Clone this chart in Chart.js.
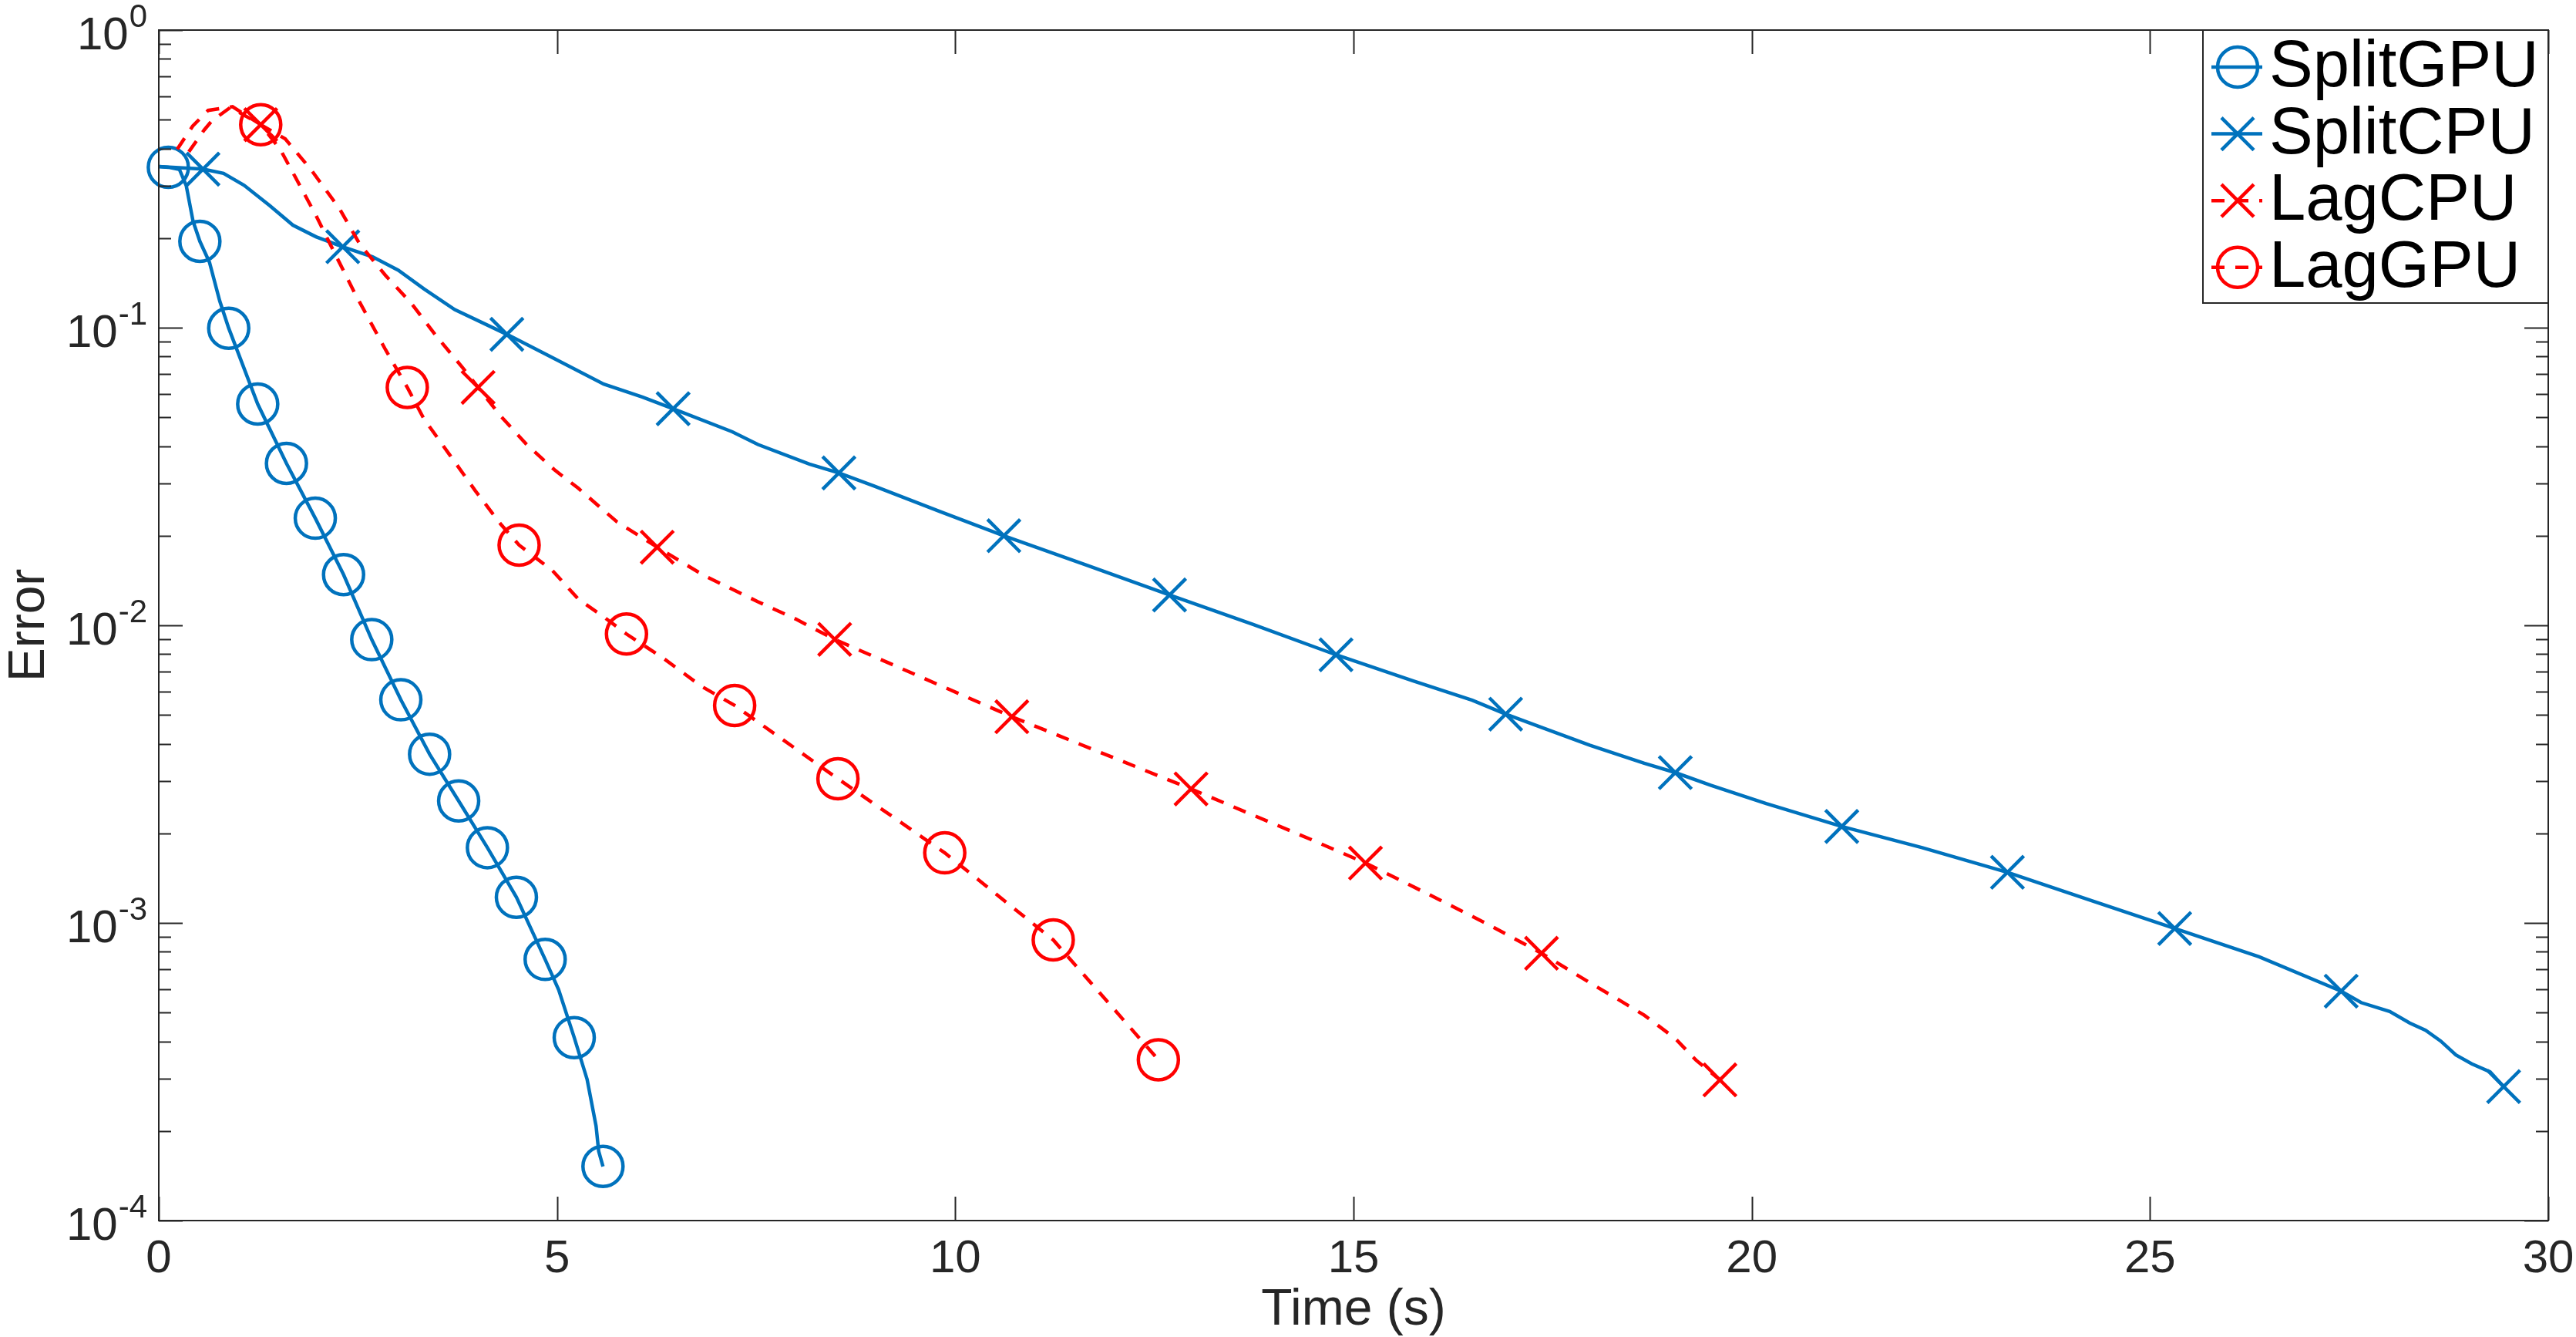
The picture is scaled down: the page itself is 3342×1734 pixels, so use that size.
<!DOCTYPE html>
<html>
<head>
<meta charset="utf-8">
<title>Error vs time</title>
<script src="https://cdn.jsdelivr.net/npm/chart.js@4.4.0/dist/chart.umd.min.js"></script>
<style>
  html, body { margin: 0; padding: 0; background: #fff; }
  canvas { display: block; }
</style>
</head>
<body>
<canvas id="graf" width="3342" height="1734"></canvas>
<script>
// --- data (time in s, error) ---
const seriesNames = ["SplitGPU", "SplitCPU", "LagCPU", "LagGPU"];

const splitGpuTime = [0, 0.12, 0.26, 0.345, 0.43, 0.516, 0.636, 0.765, 0.878, 1.242, 1.603, 1.965, 2.32, 2.674, 3.039, 3.40, 3.765, 4.126, 4.49, 4.851, 5.02, 5.216, 5.378, 5.49, 5.523, 5.577];
const splitGpuErr = [0.348, 0.346, 0.340, 0.300, 0.228, 0.195, 0.166, 0.123, 0.0996, 0.0554, 0.0350, 0.0229, 0.0148, 0.00895, 0.00562, 0.00369, 0.00257, 0.00179, 0.00122, 0.000754, 0.000597, 0.000412, 0.000298, 0.000208, 0.000171, 0.000152];
const splitGpuMarkTime = [0.12, 0.516, 0.878, 1.242, 1.603, 1.965, 2.32, 2.674, 3.039, 3.40, 3.765, 4.126, 4.49, 4.851, 5.216, 5.577];
const splitGpuMarkErr = [0.346, 0.195, 0.0996, 0.0554, 0.0350, 0.0229, 0.0148, 0.00895, 0.00562, 0.00369, 0.00257, 0.00179, 0.00122, 0.000754, 0.000412, 0.000152];

const splitCpuTime = [0, 0.555, 0.813, 1.071, 1.394, 1.684, 1.974, 2.31, 2.684, 3.007, 3.329, 3.716, 4.37, 4.974, 5.587, 6.07, 6.458, 7.20, 7.523, 8.168, 8.539, 8.975, 9.813, 10.61, 11.66, 12.69, 13.74, 14.78, 15.75, 16.49, 16.91, 17.36, 17.97, 18.65, 19.04, 19.49, 20.18, 21.13, 22.14, 23.21, 24.26, 25.31, 26.37, 27.40, 27.65, 28.01, 28.26, 28.46, 28.65, 28.84, 29.04, 29.27, 29.44];
const splitCpuErr = [0.348, 0.341, 0.330, 0.301, 0.257, 0.221, 0.202, 0.187, 0.173, 0.156, 0.135, 0.115, 0.0950, 0.0785, 0.0646, 0.0585, 0.0534, 0.0447, 0.0405, 0.0348, 0.0325, 0.0294, 0.0241, 0.0200, 0.0159, 0.01265, 0.01007, 0.00796, 0.0065, 0.0056, 0.00503, 0.00454, 0.00395, 0.00344, 0.00320, 0.00290, 0.00252, 0.00211, 0.00179, 0.00148, 0.00119, 0.000958, 0.00077, 0.00059, 0.00054, 0.000504, 0.000461, 0.000436, 0.000401, 0.00036, 0.000336, 0.000316, 0.000282];
const splitCpuMarkTime = [0.555, 2.31, 4.37, 6.458, 8.539, 10.61, 12.69, 14.78, 16.91, 19.04, 21.13, 23.21, 25.31, 27.40, 29.44];
const splitCpuMarkErr = [0.341, 0.187, 0.0950, 0.0534, 0.0325, 0.0200, 0.01265, 0.00796, 0.00503, 0.00320, 0.00211, 0.00148, 0.000958, 0.00059, 0.000282];

const lagCpuTime = [0.377, 0.571, 0.668, 0.90, 1.28, 1.587, 1.91, 2.265, 2.523, 2.845, 3.168, 3.49, 3.813, 4.009, 4.297, 4.619, 4.974, 5.265, 5.749, 6.258, 6.845, 7.523, 8.006, 8.486, 10.71, 12.96, 14.46, 15.15, 16.07, 16.71, 17.36, 18.0, 18.33, 18.65, 19.04, 19.30, 19.60];
const lagCpuErr = [0.390, 0.462, 0.496, 0.550, 0.481, 0.431, 0.340, 0.252, 0.191, 0.150, 0.121, 0.0933, 0.0735, 0.0630, 0.0503, 0.0405, 0.0332, 0.0289, 0.0223, 0.0183, 0.0147, 0.0120, 0.01047, 0.00897, 0.00493, 0.00282, 0.00191, 0.00159, 0.00120, 0.000982, 0.000791, 0.000622, 0.000552, 0.00049, 0.000409, 0.000346, 0.000297];
const lagCpuMarkTime = [1.28, 4.009, 6.258, 8.486, 10.71, 12.96, 15.15, 17.36, 19.60];
const lagCpuMarkErr = [0.481, 0.0630, 0.0183, 0.00897, 0.00493, 0.00282, 0.00159, 0.000791, 0.000297];

const lagGpuTime = [0.232, 0.426, 0.619, 0.926, 1.28, 1.523, 1.716, 1.974, 2.168, 2.458, 2.845, 3.12, 3.329, 3.652, 3.975, 4.297, 4.524, 4.94, 5.265, 5.588, 5.872, 6.33, 6.813, 7.23, 8.527, 9.868, 11.23, 12.55];
const lagGpuErr = [0.398, 0.476, 0.537, 0.553, 0.481, 0.398, 0.320, 0.238, 0.187, 0.131, 0.0845, 0.0630, 0.0494, 0.0374, 0.0283, 0.0218, 0.0186, 0.0153, 0.01227, 0.01067, 0.00935, 0.00777, 0.00624, 0.00538, 0.00305, 0.00172, 0.000877, 0.000347];
const lagGpuMarkTime = [1.28, 3.12, 4.524, 5.872, 7.23, 8.527, 9.868, 11.23, 12.55];
const lagGpuMarkErr = [0.481, 0.0630, 0.0186, 0.00935, 0.00538, 0.00305, 0.00172, 0.000877, 0.000347];

const xTicks = [0, 5, 10, 15, 20, 25, 30];
const yTicks = [1, 0.1, 0.01, 0.001, 0.0001];
const yTickExp = ["0", "-1", "-2", "-3", "-4"];

const modra = "#0072BD";
const cervena = "#FF0000";
const osa = "#262626";
const pismo = "'Liberation Sans', Arial, Helvetica, sans-serif";
const carka = [17, 14];

function body(t, e) { return t.map(function(v, i) { return { x: v, y: e[i] }; }); }

function cara(label, t, e, barva, dash, poradi) {
    return {
        label: label, data: body(t, e), showLine: true, borderColor: barva, borderWidth: 4.5,
        borderDash: dash, pointRadius: 0, tension: 0, fill: false, order: poradi
    };
}

function znacky(label, t, e, barva, styl, poradi) {
    return {
        label: label, data: body(t, e), showLine: false, clip: false,
        pointStyle: styl, pointRadius: styl === "circle" ? 26 : 30,
        pointBorderWidth: 4.5, pointBorderColor: barva, pointBackgroundColor: "rgba(0,0,0,0)",
        order: poradi
    };
}

// axes box, inward ticks, superscript y labels, axis titles and legend
const ramecek = {
    id: "ramecek",
    afterDraw: function(chart) {
        const ctx = chart.ctx, a = chart.chartArea, sx = chart.scales.x, sy = chart.scales.y;
        ctx.save();
        ctx.strokeStyle = osa; ctx.lineWidth = 2;
        ctx.strokeRect(a.left, a.top, a.right - a.left, a.bottom - a.top);
        ctx.beginPath();
        xTicks.forEach(function(v) {
            const px = Math.round(sx.getPixelForValue(v)) + 0.5;
            ctx.moveTo(px, a.bottom); ctx.lineTo(px, a.bottom - 31);
            ctx.moveTo(px, a.top); ctx.lineTo(px, a.top + 31);
        });
        yTicks.forEach(function(v) {
            const py = Math.round(sy.getPixelForValue(v)) + 0.5;
            ctx.moveTo(a.left, py); ctx.lineTo(a.left + 31, py);
            ctx.moveTo(a.right, py); ctx.lineTo(a.right - 31, py);
        });
        for (let d = 1; d < yTicks.length; d++) {
            for (let m = 2; m <= 9; m++) {
                const py = Math.round(sy.getPixelForValue(m * yTicks[d])) + 0.5;
                ctx.moveTo(a.left, py); ctx.lineTo(a.left + 16, py);
                ctx.moveTo(a.right, py); ctx.lineTo(a.right - 16, py);
            }
        }
        ctx.stroke();

        // y tick labels 10^k
        ctx.fillStyle = osa;
        ctx.textAlign = "right"; ctx.textBaseline = "alphabetic";
        yTicks.forEach(function(v, i) {
            const py = sy.getPixelForValue(v);
            ctx.font = "42px " + pismo;
            const w = ctx.measureText(yTickExp[i]).width;
            ctx.fillText(yTickExp[i], 191, py - 4);
            ctx.font = "60px " + pismo;
            ctx.fillText("10", 190 - w, py + 25);
        });

        // axis titles
        ctx.textAlign = "center";
        ctx.font = "66px " + pismo;
        ctx.fillText("Time (s)", (a.left + a.right) / 2, 1718);
        ctx.save();
        ctx.translate(57, (a.top + a.bottom) / 2);
        ctx.rotate(-Math.PI / 2);
        ctx.fillText("Error", 0, 0);
        ctx.restore();

        // legend
        const lx = 2858, ly = a.top, lw = a.right - 2858, lh = 354;
        ctx.fillStyle = "#ffffff";
        ctx.fillRect(lx, ly, lw, lh);
        ctx.strokeStyle = osa; ctx.lineWidth = 2;
        ctx.strokeRect(lx, ly, lw, lh);
        const barvy = [modra, modra, cervena, cervena];
        const styly = ["circle", "cross", "cross", "circle"];
        const carky = [[], [], carka, carka];
        seriesNames.forEach(function(n, i) {
            const cy = 87 + i * 86.6;
            ctx.strokeStyle = barvy[i]; ctx.lineWidth = 4.5;
            ctx.setLineDash(carky[i]);
            ctx.beginPath(); ctx.moveTo(2869, cy); ctx.lineTo(2935, cy); ctx.stroke();
            ctx.setLineDash([]);
            ctx.beginPath();
            if (styly[i] === "circle") {
                ctx.arc(2903, cy, 26, 0, 2 * Math.PI);
            } else {
                ctx.moveTo(2882, cy - 21); ctx.lineTo(2924, cy + 21);
                ctx.moveTo(2882, cy + 21); ctx.lineTo(2924, cy - 21);
            }
            ctx.stroke();
            ctx.fillStyle = "#000000";
            ctx.textAlign = "left";
            ctx.font = "85px " + pismo;
            ctx.fillText(n, 2944, cy + 25);
        });
        ctx.restore();
    }
};

window.addEventListener("DOMContentLoaded", function() {
    const ctx = document.getElementById("graf").getContext("2d");
    new Chart(ctx, {
        type: "scatter",
        data: {
            datasets: [
                cara("SplitGPU", splitGpuTime, splitGpuErr, modra, [], 8),
                znacky("SplitGPU", splitGpuMarkTime, splitGpuMarkErr, modra, "circle", 7),
                cara("SplitCPU", splitCpuTime, splitCpuErr, modra, [], 6),
                znacky("SplitCPU", splitCpuMarkTime, splitCpuMarkErr, modra, "crossRot", 5),
                cara("LagCPU", lagCpuTime, lagCpuErr, cervena, carka, 4),
                znacky("LagCPU", lagCpuMarkTime, lagCpuMarkErr, cervena, "crossRot", 3),
                cara("LagGPU", lagGpuTime, lagGpuErr, cervena, carka, 2),
                znacky("LagGPU", lagGpuMarkTime, lagGpuMarkErr, cervena, "circle", 1)
            ]
        },
        options: {
            responsive: false,
            animation: false,
            devicePixelRatio: 1,
            events: [],
            layout: { padding: { top: 39, right: 36, left: 0, bottom: 0 } },
            plugins: { legend: { display: false }, tooltip: { enabled: false } },
            scales: {
                x: {
                    type: "linear", min: 0, max: 30,
                    grid: { display: false, drawTicks: false },
                    border: { display: true, color: osa, width: 2 },
                    ticks: { stepSize: 5, color: osa, padding: 14, maxRotation: 0, font: { family: pismo, size: 60 } },
                    afterFit: function(s) { s.height = 151; s.paddingLeft = 0; s.paddingRight = 0; }
                },
                y: {
                    type: "logarithmic", min: 0.0001, max: 1,
                    grid: { display: false, drawTicks: false },
                    border: { display: true, color: osa, width: 2 },
                    ticks: { display: false },
                    afterBuildTicks: function(s) { s.ticks = yTicks.map(function(v) { return { value: v }; }); },
                    afterFit: function(s) { s.width = 206; }
                }
            }
        },
        plugins: [ramecek]
    });
});
</script>
</body>
</html>
